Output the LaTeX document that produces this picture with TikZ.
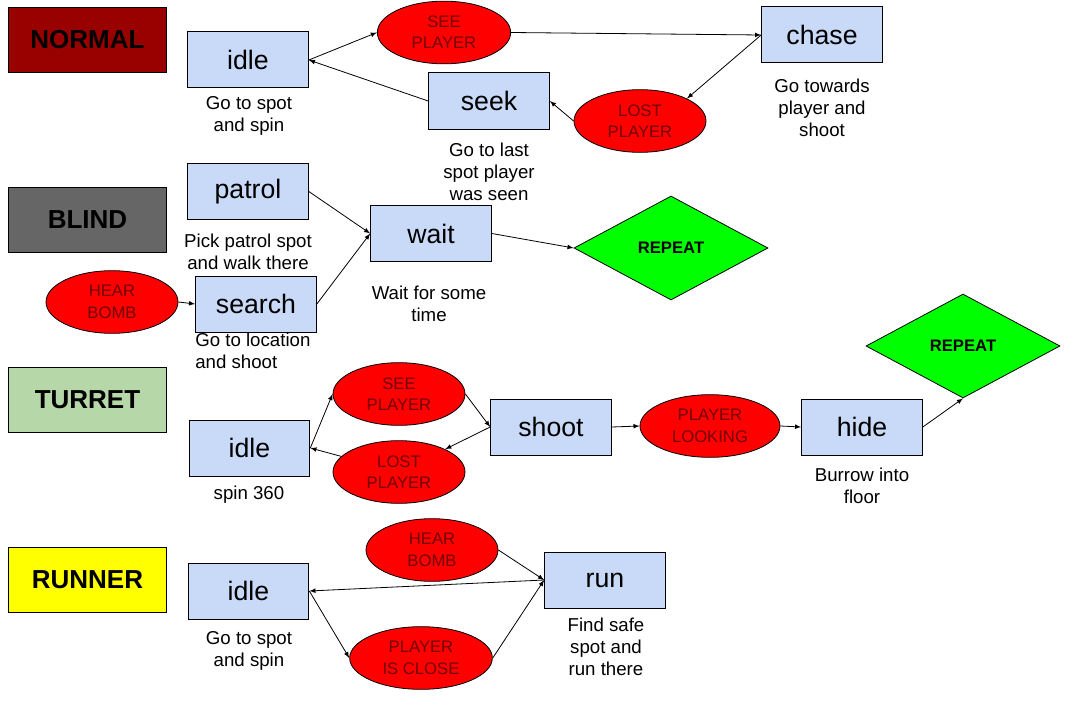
\documentclass[tikz,border=0pt]{standalone}
\usepackage{fontspec}
\setmainfont{Liberation Sans}
\usetikzlibrary{shapes.geometric}

\definecolor{normalred}{HTML}{990000}
\definecolor{blindgray}{HTML}{666666}
\definecolor{turretgreen}{HTML}{B6D7A8}
\definecolor{runneryellow}{HTML}{FFFF00}
\definecolor{stateblue}{HTML}{C9DAF8}
\definecolor{eventred}{HTML}{FF0000}
\definecolor{eventtext}{HTML}{700000}
\definecolor{repeatgreen}{HTML}{00FF00}

\begin{document}
\begin{tikzpicture}[x=0.75pt,y=-0.75pt,
    mode/.style={draw,line width=0.75pt,minimum width=118.5pt,minimum height=49pt,font=\fontsize{19.5}{24}\selectfont\bfseries},
    state/.style={draw,line width=0.75pt,fill=stateblue,minimum width=90.5pt,minimum height=42pt,font=\fontsize{20}{24}\selectfont},
    event/.style={ellipse,draw,line width=0.6pt,fill=eventred,text=eventtext,align=center,inner sep=0.5pt,minimum width=99pt,minimum height=47pt,font=\fontsize{12.5}{16}\selectfont},
    again/.style={diamond,draw,line width=0.6pt,fill=repeatgreen,minimum width=145.5pt,minimum height=78pt,font=\fontsize{12.5}{15}\selectfont\bfseries},
    desc/.style={align=center,font=\fontsize{14}{16.5}\selectfont}]

    \useasboundingbox (0,0) rectangle (1092,724);

    % modes
    \node (normal) at (87.5,40) [mode,fill=normalred] {NORMAL};
    \node (blind) at (87.5,220) [mode,fill=blindgray] {BLIND};
    \node (turret) at (87.5,400) [mode,fill=turretgreen] {TURRET};
    \node (runner) at (87.5,580) [mode,fill=runneryellow] {RUNNER};

    % normal
    \node (nidle) at (248,60) [state] {idle};
    \node (nsee) at (444,32.5) [event,minimum width=100pt] {SEE\\PLAYER};
    \node (nchase) at (822,35) [state] {chase};
    \node (nlost) at (640,121) [event] {LOST\\PLAYER};
    \node (nseek) at (489,101) [state] {seek};

    \node (nidletxt) at (249,116) [desc] {Go to spot\\and spin};
    \node (nseektxt) at (489,172) [desc] {Go to last\\spot player\\was seen};
    \node (nchasetxt) at (822,108) [desc] {Go towards\\player and\\shoot};

    % blind
    \node (bpatrol) at (248,191.5) [state] {patrol};
    \node (bwait) at (431,233.5) [state] {wait};
    \node (bsearch) at (256,304) [state] {search};
    \node (bhear) at (112,302) [event] {HEAR\\BOMB};
    \node (brepeat) at (671,248) [again] {REPEAT};

    \node (bpatroltxt) at (248,252) [desc] {Pick patrol spot\\and walk there};
    \node (bsearchtxt) at (195,351) [desc,align=left,anchor=west,inner sep=0pt] {Go to location\\and shoot};
    \node (bwaittxt) at (429,304) [desc] {Wait for some\\time};

    % turret
    \node (tidle) at (249.5,448) [state] {idle};
    \node (tsee) at (399,394) [event] {SEE\\PLAYER};
    \node (tlost) at (399,472) [event] {LOST\\PLAYER};
    \node (tshoot) at (551,427) [state] {shoot};
    \node (tlook) at (710,426) [event,minimum width=105pt] {PLAYER\\LOOKING};
    \node (thide) at (862,427) [state] {hide};
    \node (trepeat) at (963,346) [again] {REPEAT};

    \node (tidletxt) at (249,495) [desc] {spin 360};
    \node (thidetxt) at (862,486) [desc] {Burrow into\\floor};

    % runner
    \node (ridle) at (248.5,591) [state] {idle};
    \node (rhear) at (432,550) [event] {HEAR\\BOMB};
    \node (rclose) at (421,658) [event,minimum width=107pt] {PLAYER\\IS CLOSE};
    \node (rrun) at (605,580) [state] {run};

    \node (ridletxt) at (249,651) [desc] {Go to spot\\and spin};
    \node (rruntxt) at (606,647) [desc] {Find safe\\spot and\\run there};

    \path [->,>=latex,line width=0.6pt]
        (nidle.east) edge (nsee.west)
        (nsee.east) edge (nchase.west)
        (nchase.west) edge (nlost.north east)
        (nlost.west) edge (nseek.east)
        (nseek.west) edge (nidle.east)

        (bpatrol.east) edge (bwait.west)
        (bsearch.east) edge (bwait.west)
        (bhear.east) edge (bsearch.west)
        (bwait.east) edge (brepeat.west)

        (tidle.east) edge (tsee.west)
        (tlost) edge (tidle.east)
        (tsee.east) edge (tshoot.west)
        (tshoot.west) edge (tlost)
        (tshoot.east) edge (tlook.west)
        (tlook.east) edge (thide.west)
        (thide.east) edge (trepeat.south)

        (rhear.east) edge (rrun.west)
        (rrun.west) edge (ridle.east)
        (ridle.east) edge (rclose.west)
        (rclose.east) edge (rrun.west)
    ;
\end{tikzpicture}
\end{document}
